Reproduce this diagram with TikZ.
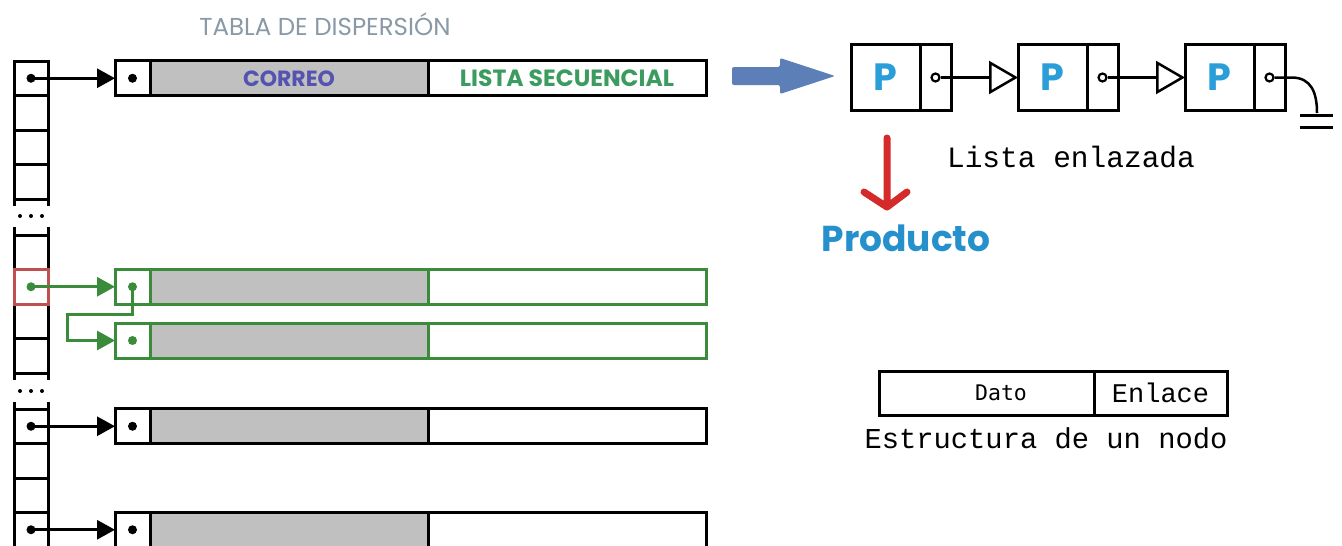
\documentclass[tikz,border=0pt]{standalone}
\usepackage{fontspec}
\usepackage{xcolor}
\usepackage{tikz}
\usetikzlibrary{positioning,calc,arrows.meta}
\setmainfont{Poppins}
\setmonofont{Liberation Mono}
\newfontfamily\monodato{DejaVu Sans Mono}
\definecolor{grisTitulo}{HTML}{8A99A6}
\definecolor{grisDato}{HTML}{C0C0C0}
\definecolor{azulCorreo}{HTML}{5454B0}
\definecolor{verdeLista}{HTML}{3C9C60}
\definecolor{verde}{HTML}{3A8C3A}
\definecolor{rojoCelda}{HTML}{C05050}
\definecolor{azulP}{HTML}{2A9ED8}
\definecolor{azulProducto}{HTML}{2690CC}
\definecolor{azulFlecha}{HTML}{5B7FB6}
\definecolor{rojoFlecha}{HTML}{D42A2A}

\begin{document}
\begin{tikzpicture}[x=1pt, y=-1pt,
    linea/.style={line width=3pt},
    celda/.style={draw, line width=3pt, minimum width=34pt, minimum height=34.5pt, inner sep=0pt, outer sep=0pt},
    ptr/.style={draw, line width=3pt, fill=white, minimum width=35pt, minimum height=35pt, inner sep=0pt, outer sep=0pt},
    dato/.style={ptr, fill=grisDato, minimum width=278pt},
    resto/.style={ptr, minimum width=278pt},
    verdeBox/.style={draw=verde, line width=3pt},
    flecha/.style={line width=3pt, -{Triangle[length=18pt, width=19pt]}},
    ldato/.style={draw, line width=3pt, minimum width=69pt, minimum height=66pt, inner sep=0pt, outer sep=0pt,
        text=azulP, font=\bfseries\fontsize{38}{40}\selectfont},
    lptr/.style={draw, line width=3pt, minimum width=31pt, minimum height=66pt, inner sep=0pt, outer sep=0pt},
    enlace/.style={line width=2.5pt, shorten <=5pt, -{Triangle[open, length=29pt, width=33pt]}},
    sbox/.style={draw, line width=3pt, minimum height=44pt, inner sep=0pt, outer sep=0pt},
    mono/.style={font=\ttfamily\fontsize{29}{32}\selectfont}
]
    \fill[white] (0,0) rectangle (1342,546);
    \useasboundingbox (0,0) rectangle (1342,546);

    % Tabla de dispersion
    \node[text=grisTitulo, font=\fontsize{24.5}{28}\selectfont] (titulo) at (325,24) {TABLA DE DISPERSIÓN};
    \foreach \y [count=\i] in {78.25,112.75,147.25,181.75} \node[celda] (a\i) at (31,\y) {};
    \foreach \y [count=\i] in {252.25,286.75,321.25,355.75} \node[celda] (b\i) at (31,\y) {};
    \foreach \y [count=\i] in {426.25,460.75,495.25,529.75} \node[celda] (c\i) at (31,\y) {};
    \draw[linea] (a4.south west) -- ++(0,7) (a4.south east) -- ++(0,7);
    \draw[linea] (b1.north west) -- ++(0,-8) (b1.north east) -- ++(0,-8);
    \draw[linea] (b4.south west) -- ++(0,7) (b4.south east) -- ++(0,7);
    \draw[linea] (c1.north west) -- ++(0,-7) (c1.north east) -- ++(0,-7);
    \draw[rojoCelda, line width=3pt] (b2.south west) rectangle (b2.north east);
    \foreach \x in {20,31,42} {
        \fill (\x,216) circle (2pt);
        \fill (\x,391) circle (2pt);
    }

    % Registros
    \node[ptr] (r1p) at (132.5,78.25) {};
    \node[dato, right=0pt of r1p, text=azulCorreo, font=\bfseries\fontsize{22}{24}\selectfont] (r1d) {CORREO};
    \node[resto, right=0pt of r1d, text=verdeLista, font=\bfseries\fontsize{23.5}{24}\selectfont] (r1r) {LISTA SECUENCIAL};

    \node[ptr, verdeBox] (rAp) at (132.5,286.75) {};
    \node[dato, verdeBox, right=0pt of rAp] (rAd) {};
    \node[resto, verdeBox, right=0pt of rAd] (rAr) {};
    \node[ptr, verdeBox] (rBp) at (132.5,340.5) {};
    \node[dato, verdeBox, right=0pt of rBp] (rBd) {};
    \node[resto, verdeBox, right=0pt of rBd] (rBr) {};

    \node[ptr] (rCp) at (132.5,426.25) {};
    \node[dato, right=0pt of rCp] (rCd) {};
    \node[resto, right=0pt of rCd] (rCr) {};
    \node[ptr] (rDp) at (132.5,529.75) {};
    \node[dato, right=0pt of rDp] (rDd) {};
    \node[resto, right=0pt of rDd] (rDr) {};

    % Punteros
    \draw[flecha] (a1.center) -- (r1p.west);
    \draw[flecha] (c1.center) -- (rCp.west);
    \draw[flecha] (c4.center) -- (rDp.west);
    \draw[flecha, verde] (b2.center) -- (rAp.west);
    \coordinate (codo) at (67,314);
    \draw[flecha, verde] (rAp.center) |- (codo) |- (rBp.west);
    \foreach \n in {a1,c1,c4,r1p,rCp,rDp} \fill (\n) circle (4.5pt);
    \foreach \n in {b2,rAp,rBp} \fill[verde] (\n) circle (4.5pt);

    % Flecha azul
    \fill[azulFlecha, rounded corners=2pt] (732,67) -- (780,67) -- (780,58) -- (835,76) -- (780,94) -- (780,85) -- (732,85) -- cycle;

    % Lista enlazada
    \node[ldato] (n1d) at (885.5,77.5) {P};
    \node[lptr, right=0pt of n1d] (n1p) {};
    \node[ldato, right=67pt of n1p] (n2d) {P};
    \node[lptr, right=0pt of n2d] (n2p) {};
    \node[ldato, right=67pt of n2p] (n3d) {P};
    \node[lptr, right=0pt of n3d] (n3p) {};
    \draw[enlace] (n1p.center) -- (n2d.west);
    \draw[enlace] (n2p.center) -- (n3d.west);
    \coordinate (tierra) at (1317,113);
    \draw[line width=2.5pt, shorten <=5pt] (n3p.center) -- ++(22,0) .. controls +(20,0) and +(0,-20) .. (tierra);
    \draw[linea] ($(tierra)+(-17,2)$) -- ++(33,0);
    \draw[linea] ($(tierra)+(-17,14)$) -- ++(33,0);
    \foreach \n in {n1p,n2p,n3p} \draw[line width=2.2pt] (\n) circle (4pt);
    \node[mono, font=\ttfamily\fontsize{29.5}{32}\selectfont] (lista) at (1071,157) {Lista enlazada};

    % Producto
    \coordinate (rojoIni) at (887,138);
    \coordinate (rojoFin) at (887,207);
    \draw[rojoFlecha, line width=7pt, line cap=round, line join=round] (rojoIni) -- (rojoFin)
        ($(rojoFin)+(-23,-15)$) -- (rojoFin) -- ($(rojoFin)+(20,-15)$);
    \node[text=azulProducto, font=\bfseries\fontsize{36}{40}\selectfont] (producto) at (906,238) {Producto};

    % Estructura de un nodo
    \node[sbox, minimum width=215pt, font=\monodato\fontsize{21.5}{24}\selectfont] (sdato) at (986.5,393) {\hspace*{29pt}Dato};
    \node[sbox, minimum width=133pt, right=0pt of sdato, font=\ttfamily\fontsize{27}{30}\selectfont] (senlace) {Enlace};
    \node[mono, font=\ttfamily\fontsize{28.8}{32}\selectfont] (estructura) at (1046,438) {Estructura de un nodo};
\end{tikzpicture}
\end{document}
